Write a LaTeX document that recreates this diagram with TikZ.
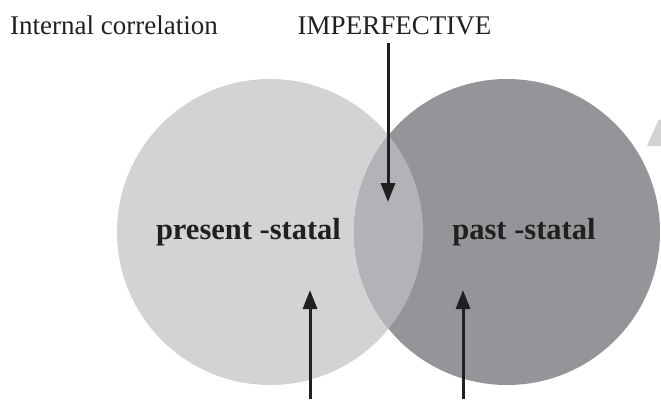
\documentclass[tikz,border=0pt]{standalone}
\usepackage{fontspec}
\setmainfont{Liberation Serif}
\usetikzlibrary{arrows.meta}
\definecolor{lightg}{HTML}{D1D3D4}
\definecolor{midg}{HTML}{B1B3B6}
\definecolor{darkg}{HTML}{939598}
\definecolor{ink}{HTML}{231F20}
\tikzset{
  plainlabel/.style={inner sep=0pt, text=ink, font=\fontsize{27}{30}\selectfont},
  boldlabel/.style={inner sep=0pt, text=ink, font=\fontsize{30.5}{34}\selectfont\bfseries},
  pointer/.style={draw=ink, line width=3pt, -{Triangle[width=14pt,length=19pt]}}
}
\begin{document}
\begin{tikzpicture}[x=1pt,y=-1pt]
\useasboundingbox (0,0) rectangle (661,399);
% circles
\fill[lightg] (270,232) circle[radius=153];
\fill[darkg] (507,232) circle[radius=153];
\begin{scope}
  \clip (270,232) circle[radius=153];
  \fill[midg] (507,232) circle[radius=153];
\end{scope}
% fragment at top right
\fill[lightg] (647,146) -- (661,146) -- (661,119) -- (658,121) -- cycle;
% labels
\node[plainlabel, anchor=base west] (internal) at (10,34) {Internal correlation};
\node[plainlabel, anchor=base] (imp) at (394.5,34) {IMPERFECTIVE};
\node[boldlabel, anchor=base] (present) at (248.5,239) {present -statal};
\node[boldlabel, anchor=base] (past) at (524,239) {past -statal};
% arrow ends
\coordinate (impstart) at (388,43);
\coordinate (imptip) at (388,202);
\coordinate (lstart) at (310,399);
\coordinate (ltip) at (310,290);
\coordinate (rstart) at (463,399);
\coordinate (rtip) at (463,290);
\draw[pointer] (impstart) -- (imptip);
\draw[pointer] (lstart) -- (ltip);
\draw[pointer] (rstart) -- (rtip);
\end{tikzpicture}
\end{document}
